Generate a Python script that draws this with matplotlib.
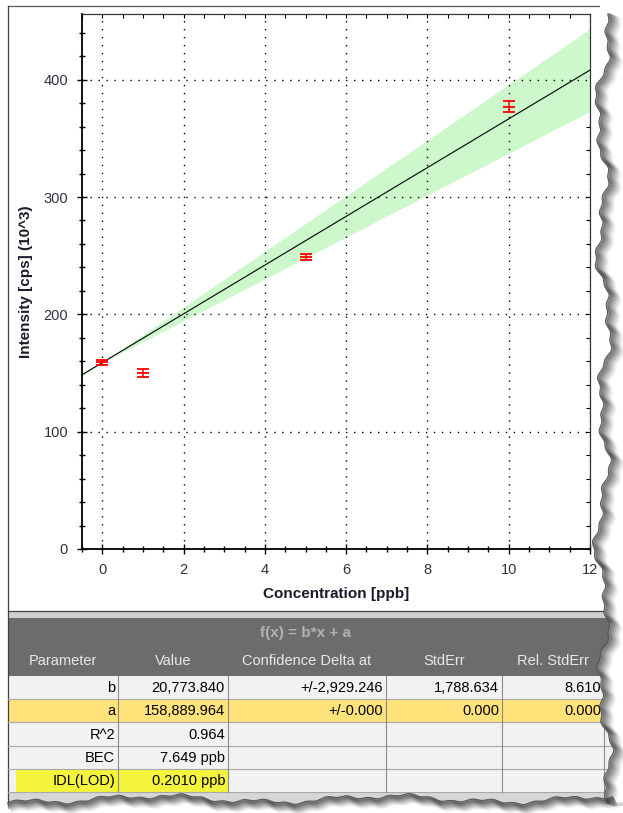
import numpy as np
import matplotlib.pyplot as plt
from matplotlib.ticker import MultipleLocator
from matplotlib.patches import Rectangle

# calibration points (concentration in ppb, intensity in 10^3 cps)
conc = [0, 1, 5, 10]
intensity = [159.0, 150.0, 249.0, 377.0]
intensity_err = [2.5, 3.0, 2.5, 4.5]

# fit parameters from the table (in 10^3 cps)
slope = 20.77384
intercept = 158.889964
slope_delta = 2.929246

table_title = "f(x) = b*x + a"
col_headers = ["Parameter", "Value", "Confidence Delta at", "StdErr", "Rel. StdErr"]
param_names = ["b", "a", "R^2", "BEC", "IDL(LOD)"]
param_values = ["20,773.840", "158,889.964", "0.964", "7.649 ppb", "0.2010 ppb"]
conf_delta = ["+/-2,929.246", "+/-0.000", "", "", ""]
std_err = ["1,788.634", "0.000", "", "", ""]
rel_std_err = ["8.610", "0.000", "", "", ""]

plt.rcParams['font.family'] = ['Liberation Sans', 'DejaVu Sans']

W, H = 623, 813
fig = plt.figure(figsize=(W / 100, H / 100), dpi=100)

# background layer in pixel coordinates
bg = fig.add_axes([0, 0, 1, 1], zorder=0)
bg.set_xlim(0, W)
bg.set_ylim(H, 0)
bg.axis('off')

# chart frame
bg.plot([8, 600], [6, 6], color='#5a5a5a', lw=0.9)
bg.plot([8, 8], [6, 808], color='#404040', lw=0.9)
bg.add_patch(Rectangle((8, 611), 615, 7, color='#cfcfcf', lw=0))
bg.plot([8, 623], [611, 611], color='#404040', lw=0.9)

# table
col_edges = [8, 118, 228, 386, 502, 604]
bg.add_patch(Rectangle((8, 618), 615, 58, color='#6c6c6c', lw=0))
bg.text(306, 633, table_title, color='#b2b2b2', fontsize=11, fontweight='bold',
        ha='center', va='center')
for i, name in enumerate(col_headers):
    cx = (col_edges[i] + col_edges[i + 1]) / 2
    bg.text(cx, 661, name, color='#e8e8e8', fontsize=10.5, ha='center', va='center')

row_top = 676
row_h = 23.2
columns = [param_names, param_values, conf_delta, std_err, rel_std_err]
for r in range(len(param_names)):
    y0 = row_top + r * row_h
    fill = '#f2f2f2'
    if param_names[r] == 'a':
        fill = '#ffe27a'
    bg.add_patch(Rectangle((8, y0), 615, row_h, color=fill, lw=0))
    if param_names[r] == 'IDL(LOD)':
        bg.add_patch(Rectangle((16, y0), 212, row_h, color='#f4f43c', lw=0))
    bg.plot([8, 623], [y0 + row_h, y0 + row_h], color='#a8a8a8', lw=0.8)
    for c, col in enumerate(columns):
        bg.text(col_edges[c + 1] - 3, y0 + row_h / 2 + 0.5, col[r], fontsize=10.5,
                color='black', ha='right', va='center')
for xe in col_edges[1:]:
    bg.plot([xe, xe], [row_top, row_top + 5 * row_h], color='#8a8a8a', lw=0.8)
bg.add_patch(Rectangle((8, row_top + 5 * row_h), 615, 14, color='#d6d6d6', lw=0))

# chart
l, r, t, b = 82, 590, 14, 549
ax = fig.add_axes([l / W, 1 - b / H, (r - l) / W, (b - t) / H], zorder=1)
xs = np.linspace(-0.5, 12, 200)
ax.fill_between(xs, intercept + (slope - slope_delta) * xs,
                intercept + (slope + slope_delta) * xs, color='#ccf8cc', lw=0)
ax.plot(xs, intercept + slope * xs, color='black', lw=0.8)
ax.errorbar(conc, intensity, yerr=intensity_err, fmt='_', color='#ff0000', ms=9,
            mew=1.3, elinewidth=1.1, capsize=4, capthick=1.3, zorder=4)

ax.set_xlim(-0.5, 12)
ax.set_ylim(0, 456)
ax.xaxis.set_major_locator(MultipleLocator(2))
ax.xaxis.set_minor_locator(MultipleLocator(0.5))
ax.yaxis.set_major_locator(MultipleLocator(100))
ax.yaxis.set_minor_locator(MultipleLocator(20))
ax.grid(True, which='major', color='black', lw=1.0, ls=(0, (1, 4.75)))
ax.tick_params(which='major', direction='inout', length=6.5, width=1.0,
               labelsize=10.5, labelcolor='#303040', pad=6.8)
ax.tick_params(which='minor', direction='inout', length=4.3, width=1.0)
for s in ['left', 'bottom']:
    ax.spines[s].set_linewidth(1.3)
    ax.spines[s].set_color('black')
for s in ['top', 'right']:
    ax.spines[s].set_linewidth(0.8)
    ax.spines[s].set_color('#333333')

secx = ax.secondary_xaxis('top')
secx.xaxis.set_major_locator(MultipleLocator(0.5))
secx.tick_params(direction='in', length=3, width=0.8, labeltop=False)
secx.spines['top'].set_linewidth(0.8)
secx.spines['top'].set_color('#333333')
secy = ax.secondary_yaxis('right')
secy.yaxis.set_major_locator(MultipleLocator(20))
secy.tick_params(direction='in', length=3, width=0.8, labelright=False)
secy.spines['right'].set_linewidth(0.8)
secy.spines['right'].set_color('#333333')

ax.set_xlabel("Concentration [ppb]", fontsize=11, fontweight='bold', color='#1a1a2a')
ax.set_ylabel("Intensity [cps] (10^3)", fontsize=11, fontweight='bold', color='#1a1a2a')
ax.xaxis.set_label_coords(0.5, -0.0705)
ax.yaxis.set_label_coords(-0.097, 0.5)

# torn paper edge on the right and at the bottom
ov = fig.add_axes([0, 0, 1, 1], zorder=5)
ov.set_xlim(0, W)
ov.set_ylim(H, 0)
ov.axis('off')
ov.patch.set_alpha(0)
ty = np.linspace(14, 802, 600)
tx = (603 + 5 * np.sin(ty / 23.0) + 3 * np.sin(ty / 9.1 + 1.1)
      + 1.2 * np.sin(ty / 2.9 + 0.4) + 2 * np.sin(ty / 61.0 + 2.0))
bx = np.linspace(8, 612, 500)
by = (799 + 3 * np.sin(bx / 37.0 + 0.5) + 2 * np.sin(bx / 12.0 + 2.0)
      + 0.9 * np.sin(bx / 3.3))
ov.fill_betweenx(ty, tx, W, color='white', lw=0)
ov.add_patch(Rectangle((600, 0), 23, 15, color='white', lw=0))
ov.fill_between(bx, by, H, color='white', lw=0)
for k in range(1, 13):
    a = 0.42 * (1 - k / 13) ** 1.3
    ov.plot(tx + k, ty + k * 0.4, color='#2e2e2e', alpha=a, lw=1.8)
    ov.plot(bx + k * 0.4, by + k * 0.8, color='#2e2e2e', alpha=a, lw=1.8)
ov.plot(tx, ty, color='#555555', lw=0.7)
ov.plot(bx, by, color='#555555', lw=0.7)

fig.savefig('out.png', dpi=100)
